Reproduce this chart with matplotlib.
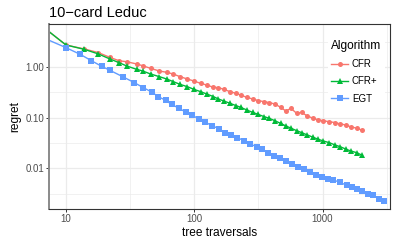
import matplotlib
matplotlib.use('Agg')
import matplotlib.pyplot as plt
from matplotlib.ticker import FixedLocator, NullFormatter

plt.rcParams['font.family'] = ['Liberation Sans', 'DejaVu Sans']

# tree traversals for CFR / CFR+ (same sampling)
cfr_x = [7.5, 10, 13.9, 17.9, 22, 25.9, 29.7, 35.5, 39.6, 45.7, 53.4, 60.9,
         68.6, 77.3, 88.2, 99.4, 112, 125, 141, 154, 170, 190, 211, 230, 256,
         285, 315, 349, 384, 425, 471, 518, 567, 627, 686, 760, 846, 925,
         1012, 1127, 1248, 1365, 1511, 1652, 1841, 2013]
cfr_y = [4.83, 2.72, 2.27, 1.92, 1.55, 1.33, 1.27, 1.15, 1.06, 0.94, 0.834,
         0.785, 0.727, 0.645, 0.58, 0.529, 0.476, 0.441, 0.397, 0.392, 0.362,
         0.326, 0.302, 0.28, 0.252, 0.234, 0.217, 0.207, 0.198, 0.186, 0.16,
         0.135, 0.153, 0.122, 0.127, 0.108, 0.097, 0.09, 0.087, 0.083, 0.08,
         0.075, 0.072, 0.066, 0.062, 0.057]
cfrp_y = [4.83, 2.72, 2.23, 1.81, 1.44, 1.22, 1.05, 0.90, 0.834, 0.727, 0.645,
          0.58, 0.514, 0.455, 0.409, 0.362, 0.326, 0.293, 0.26, 0.234, 0.213,
          0.192, 0.173, 0.16, 0.142, 0.127, 0.116, 0.105, 0.097, 0.087, 0.077,
          0.0685, 0.062, 0.0554, 0.0506, 0.0455, 0.0409, 0.0374, 0.0346,
          0.0321, 0.0289, 0.0268, 0.0241, 0.022, 0.0204, 0.0183]

egt_x = [7.5, 10, 12.9, 15.8, 19.0, 22.0, 28.0, 34.1, 40.1, 46.5, 52.4, 59.8,
         66.6, 76.0, 85.6, 96.5, 109, 122, 138, 156, 175, 195, 216, 244, 271,
         306, 339, 377, 418, 465, 518, 580, 646, 716, 797, 887, 983, 1107,
         1211, 1365, 1538, 1683, 1841, 2037, 2270, 2483, 2748, 3006]
egt_y = [3.31, 2.41, 1.78, 1.33, 1.03, 0.86, 0.635, 0.491, 0.391, 0.321, 0.26,
         0.22, 0.183, 0.153, 0.129, 0.111, 0.094, 0.081, 0.0695, 0.0598,
         0.0506, 0.0455, 0.0403, 0.0352, 0.0302, 0.0268, 0.0237, 0.0204,
         0.0178, 0.0157, 0.014, 0.0122, 0.0108, 0.0096, 0.0085, 0.0075,
         0.00685, 0.00625, 0.00589, 0.00529, 0.00462, 0.00422, 0.00397,
         0.00362, 0.00307, 0.00293, 0.00248, 0.0023]

fig = plt.figure(figsize=(4.07, 2.44), dpi=100)
ax = fig.add_axes([0.1216, 0.1434, 0.8364, 0.7582])

kw = dict(lw=1.0, markevery=slice(1, None), clip_on=True)
ax.plot(cfr_x, cfr_y, color='#F8766D', marker='o', ms=3.6, mew=0, label='CFR', **kw)
ax.plot(cfr_x, cfrp_y, color='#00BA38', marker='^', ms=4.4, mew=0, label='CFR+', **kw)
ax.plot(egt_x, egt_y, color='#619CFF', marker='s', ms=3.8, mew=0, label='EGT', **kw)

ax.set_xscale('log')
ax.set_yscale('log')
ax.set_xlim(7.44, 3350)
ax.set_ylim(0.00157, 7.06)

ax.xaxis.set_major_locator(FixedLocator([10, 100, 1000]))
ax.xaxis.set_minor_locator(FixedLocator([31.6, 316, 3162]))
ax.yaxis.set_major_locator(FixedLocator([0.01, 0.1, 1.0]))
ax.yaxis.set_minor_locator(FixedLocator([0.00316, 0.0316, 0.316, 3.16]))
ax.set_xticklabels(['10', '100', '1000'])
ax.set_yticklabels(['0.01', '0.10', '1.00'])
ax.xaxis.set_minor_formatter(NullFormatter())
ax.yaxis.set_minor_formatter(NullFormatter())

ax.grid(True, which='major', color='#EBEBEB', lw=0.9)
ax.grid(True, which='minor', color='#EBEBEB', lw=0.5)
ax.set_axisbelow(True)
ax.tick_params(which='major', length=2.2, width=0.7, color='#333333',
               labelsize=7.0, labelcolor='#4D4D4D', pad=1.5)
ax.tick_params(which='minor', length=0)
for s in ax.spines.values():
    s.set_color('#333333')
    s.set_linewidth(0.8)
ax.spines['left'].set_color('#8A8A8A')
ax.spines['left'].set_linewidth(1.4)

ax.set_xlabel('tree traversals', fontsize=8.6, labelpad=2)
ax.set_ylabel('regret', fontsize=8.6, labelpad=3)
ax.set_title('10\u2212card Leduc', fontsize=10.5, loc='left', pad=5)

leg = ax.legend(title='Algorithm', loc='upper right', bbox_to_anchor=(1.0, 0.96),
                fontsize=7.0, title_fontsize=8.6, frameon=True, fancybox=False,
                edgecolor='none', facecolor='white', framealpha=1,
                handlelength=1.7, labelspacing=0.75, borderpad=0.35,
                handletextpad=0.4)
leg._legend_box.align = 'left'

fig.savefig('out.png', dpi=100)
